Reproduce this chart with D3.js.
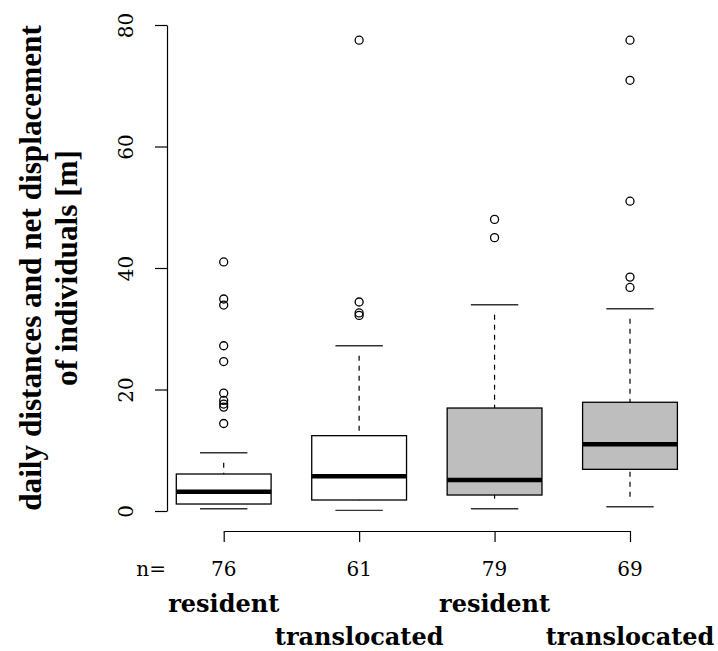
<!DOCTYPE html>
<html>
<head>
<meta charset="utf-8">
<script src="https://cdn.jsdelivr.net/npm/d3@7"></script>
<style>
  html, body { margin: 0; padding: 0; background: #fff; }
  svg { display: block; }
  text { font-family: "DejaVu Serif", "Liberation Serif", serif; fill: #000; }
</style>
</head>
<body>
<svg id="chart" width="718" height="651"></svg>
<script>
// Group labels and sample sizes
const groups = ["resident", "translocated", "resident", "translocated"];
const counts = [76, 61, 79, 69];
const fills = ["#ffffff", "#ffffff", "#bebebe", "#bebebe"];

// Five-number summaries: lower whisker, Q1, median, Q3, upper whisker [m]
const lowerWhisker = [0.38, 0.11, 0.38, 0.71];
const q1 = [1.15, 1.81, 2.63, 6.86];
const medians = [3.18, 5.7, 5.1, 10.97];
const q3 = [6.09, 12.4, 16.95, 17.9];
const upperWhisker = [9.6, 27.2, 33.96, 33.3];

// Outlying observations per group [m]
const outliers = [
  [41.0, 34.9, 33.9, 27.2, 24.6, 19.4, 18.2, 17.6, 17.1, 14.4],
  [77.5, 34.4, 32.6, 32.2],
  [48.0, 45.0],
  [77.5, 70.9, 51.0, 38.5, 36.8]
];

const yTicks = [0, 20, 40, 60, 80];
const yLabelLines = ["daily distances and net displacement", "of individuals [m]"];

const svg = d3.select("#chart");
const idx = d3.range(groups.length);

const x = d3.scalePoint().domain(idx).range([223.7, 630]);
const y = d3.scaleLinear().domain([0, 80]).range([511, 25]);
const boxW = x.step() * 0.7;
const capW = boxW / 2;

// y axis (R style: line spans first to last tick, labels rotated)
const yAxis = svg.append("g")
  .attr("transform", "translate(167,0)")
  .call(d3.axisLeft(y).tickValues(yTicks).tickSize(12).tickSizeOuter(0).tickFormat(d3.format("d")));
yAxis.selectAll("path.domain").attr("stroke", "#000").attr("stroke-width", 1.2);
yAxis.selectAll(".tick line").attr("stroke", "#000").attr("stroke-width", 1.2);
yAxis.selectAll(".tick text")
  .attr("x", null).attr("dy", null)
  .attr("transform", "translate(-34.5,0) rotate(-90)")
  .attr("text-anchor", "middle")
  .style("font-family", "DejaVu Serif")
  .style("font-size", "20px")
  .attr("fill", "#000");

// x axis with ticks at each box
const xAxis = svg.append("g")
  .attr("transform", "translate(0,531)")
  .call(d3.axisBottom(x).tickSize(11).tickSizeOuter(0).tickFormat(""));
xAxis.selectAll("path.domain").attr("stroke", "#000").attr("stroke-width", 1.2);
xAxis.selectAll(".tick line").attr("stroke", "#000").attr("stroke-width", 1.2);

// sample sizes
svg.append("text")
  .attr("x", 166).attr("y", 576)
  .attr("text-anchor", "end")
  .style("font-size", "20px")
  .text("n=");
svg.selectAll("text.count").data(idx).join("text")
  .attr("class", "count")
  .attr("x", i => x(i)).attr("y", 576)
  .attr("text-anchor", "middle")
  .style("font-size", "20px")
  .text(i => counts[i]);

// group names on two staggered rows
svg.selectAll("text.group").data(idx).join("text")
  .attr("class", "group")
  .attr("x", i => x(i))
  .attr("y", i => i % 2 === 0 ? 612 : 645)
  .attr("text-anchor", "middle")
  .style("font-size", "24px")
  .style("font-weight", "bold")
  .text(i => groups[i]);

// y axis title, two rotated lines fitted to the axis length
const titleFont = "Liberation Serif";
const titleG = svg.append("g");
const titleCenter = (y(0) + y(80)) / 2;
const probe = titleG.append("text")
  .style("font-family", titleFont).style("font-size", "100px").style("font-weight", "bold")
  .text(yLabelLines[0]);
const titleSize = 100 * (y(0) - y(80)) / probe.node().getComputedTextLength();
probe.remove();
titleG.selectAll("text").data(yLabelLines).join("text")
  .attr("transform", (d, i) => `translate(${i === 0 ? 41 : 77},${titleCenter}) rotate(-90)`)
  .attr("text-anchor", "middle")
  .style("font-family", titleFont)
  .style("font-size", titleSize + "px")
  .style("font-weight", "bold")
  .text(d => d);

// boxes
const boxes = svg.append("g").selectAll("g").data(idx).join("g");

// dashed whiskers, drawn from the staple toward the box
boxes.append("line")
  .attr("x1", i => x(i)).attr("x2", i => x(i))
  .attr("y1", i => y(upperWhisker[i]) + 5).attr("y2", i => y(q3[i]))
  .attr("stroke", "#000").attr("stroke-width", 1.2)
  .attr("stroke-dasharray", "5,5").attr("stroke-dashoffset", 5);
boxes.append("line")
  .attr("x1", i => x(i)).attr("x2", i => x(i))
  .attr("y1", i => y(lowerWhisker[i]) - 5).attr("y2", i => y(q1[i]))
  .attr("stroke", "#000").attr("stroke-width", 1.2)
  .attr("stroke-dasharray", "5,5").attr("stroke-dashoffset", 5);

// staples
boxes.append("line")
  .attr("x1", i => x(i) - capW / 2).attr("x2", i => x(i) + capW / 2)
  .attr("y1", i => y(upperWhisker[i])).attr("y2", i => y(upperWhisker[i]))
  .attr("stroke", "#333").attr("stroke-width", 1.4);
boxes.append("line")
  .attr("x1", i => x(i) - capW / 2).attr("x2", i => x(i) + capW / 2)
  .attr("y1", i => y(lowerWhisker[i])).attr("y2", i => y(lowerWhisker[i]))
  .attr("stroke", "#333").attr("stroke-width", 1.4);

// interquartile box
boxes.append("rect")
  .attr("x", i => x(i) - boxW / 2)
  .attr("width", boxW)
  .attr("y", i => y(q3[i]))
  .attr("height", i => y(q1[i]) - y(q3[i]))
  .attr("fill", i => fills[i])
  .attr("stroke", "#000").attr("stroke-width", 1.3);

// median
boxes.append("line")
  .attr("x1", i => x(i) - boxW / 2).attr("x2", i => x(i) + boxW / 2)
  .attr("y1", i => y(medians[i])).attr("y2", i => y(medians[i]))
  .attr("stroke", "#000").attr("stroke-width", 4.5);

// outliers
boxes.selectAll("circle")
  .data(i => outliers[i].map(v => ({ i, v })))
  .join("circle")
  .attr("cx", d => x(d.i)).attr("cy", d => y(d.v))
  .attr("r", 4)
  .attr("fill", "none")
  .attr("stroke", "#000").attr("stroke-width", 1.3);
</script>
</body>
</html>
